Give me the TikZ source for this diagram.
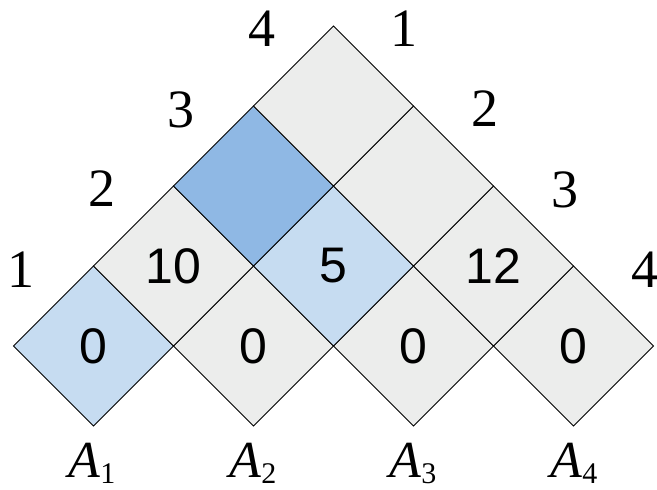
\documentclass[tikz,border=0pt]{standalone}
\usepackage{fontspec}
\setmainfont{Liberation Serif}
\newfontfamily\cellfont{Liberation Sans}
\newfontfamily\labelfont{Liberation Serif}
\usetikzlibrary{shapes.geometric}
\definecolor{cellgray}{HTML}{ECEDEC}
\definecolor{celllight}{HTML}{C6DCF1}
\definecolor{celldark}{HTML}{8FB8E4}
\newcommand{\matname}[1]{{\itshape A}\raisebox{-6pt}{\fontsize{30}{36}\selectfont #1}}
\tikzset{
  cell/.style={shape=diamond, draw=black, line width=0.8pt, fill=cellgray,
    minimum width=160pt, minimum height=160pt, inner sep=0pt, outer sep=0pt,
    font=\cellfont\fontsize{50}{60}\selectfont},
  lightcell/.style={cell, fill=celllight},
  darkcell/.style={cell, fill=celldark},
  sidelabel/.style={font=\labelfont\fontsize{54}{60}\selectfont, inner sep=0pt},
  matlabel/.style={font=\labelfont\fontsize{52}{60}\selectfont, inner sep=0pt, anchor=base}
}
\begin{document}
\begin{tikzpicture}[x=1pt,y=-1pt]
\path[use as bounding box] (0,0) rectangle (657,490);
% bottom row
\node[lightcell] (c11) at (93.5,346) {0};
\node[cell] (c22) at (253.5,346) {0};
\node[cell] (c33) at (413.5,346) {0};
\node[cell] (c44) at (573.5,346) {0};
% row 2
\node[cell] (c12) at (173.5,266) {10};
\node[lightcell] (c23) at (333.5,266) {5};
\node[cell] (c34) at (493.5,266) {12};
% row 3
\node[darkcell] (c13) at (253.5,186) {};
\node[cell] (c24) at (413.5,186) {};
% row 4
\node[cell] (c14) at (333.5,106) {};
% left labels
\node[sidelabel] (l1) at (21,270) {1};
\node[sidelabel] (l2) at (102,189) {2};
\node[sidelabel] (l3) at (181,110) {3};
\node[sidelabel] (l4) at (262,29) {4};
% right labels
\node[sidelabel] (r1) at (404,29) {1};
\node[sidelabel] (r2) at (485,109) {2};
\node[sidelabel] (r3) at (565,190) {3};
\node[sidelabel] (r4) at (645,270) {4};
% matrix labels
\node[matlabel] (a1) at (92,477) {\matname{1}};
\node[matlabel] (a2) at (253,477) {\matname{2}};
\node[matlabel] (a3) at (413,477) {\matname{3}};
\node[matlabel] (a4) at (574,477) {\matname{4}};
\end{tikzpicture}
\end{document}
